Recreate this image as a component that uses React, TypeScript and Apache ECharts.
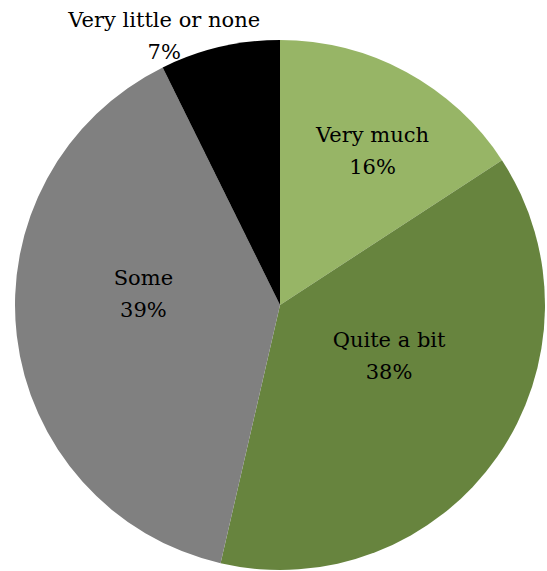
import React, { useEffect, useRef } from "react";
import * as echarts from "echarts";

const categories = ["Very much", "Quite a bit", "Some", "Very little or none"];
const values = [15.8, 37.8, 39.1, 7.3];
const colors = ["#97b566", "#67843e", "#808080", "#000000"];
// label nudges (dx, dy) relative to the default inside position
const labelShifts: [number, number][] = [
  [28, -35],
  [-2, -27],
  [-2, -27],
  [-85, -137],
];

export default function App() {
  const ref = useRef<HTMLDivElement>(null);
  useEffect(() => {
    if (!ref.current) return;
    const chart = echarts.init(ref.current, null, { renderer: "svg" });
    chart.setOption({
      animation: false,
      backgroundColor: "#ffffff",
      series: [
        {
          type: "pie",
          center: [280, 305],
          radius: 265,
          startAngle: 90,
          clockwise: true,
          avoidLabelOverlap: false,
          label: {
            show: true,
            position: "inside",
            formatter: (p: any) => `${p.name}\n${Math.round(p.value)}%`,
            fontFamily: "DejaVu Serif",
            fontSize: 21,
            lineHeight: 32,
            color: "#000000",
            align: "center",
          },
          labelLine: { show: false },
          labelLayout: (p: any) => {
            const s = labelShifts[p.dataIndex];
            return { dx: s[0], dy: s[1] };
          },
          itemStyle: { borderWidth: 0 },
          emphasis: { disabled: true },
          data: categories.map((c, i) => ({
            name: c,
            value: values[i],
            itemStyle: { color: colors[i] },
          })),
        },
      ],
    });
    return () => chart.dispose();
  }, []);
  return (
    <div
      ref={ref}
      style={{ position: "fixed", left: 0, top: 0, width: 547, height: 571 }}
    />
  );
}
